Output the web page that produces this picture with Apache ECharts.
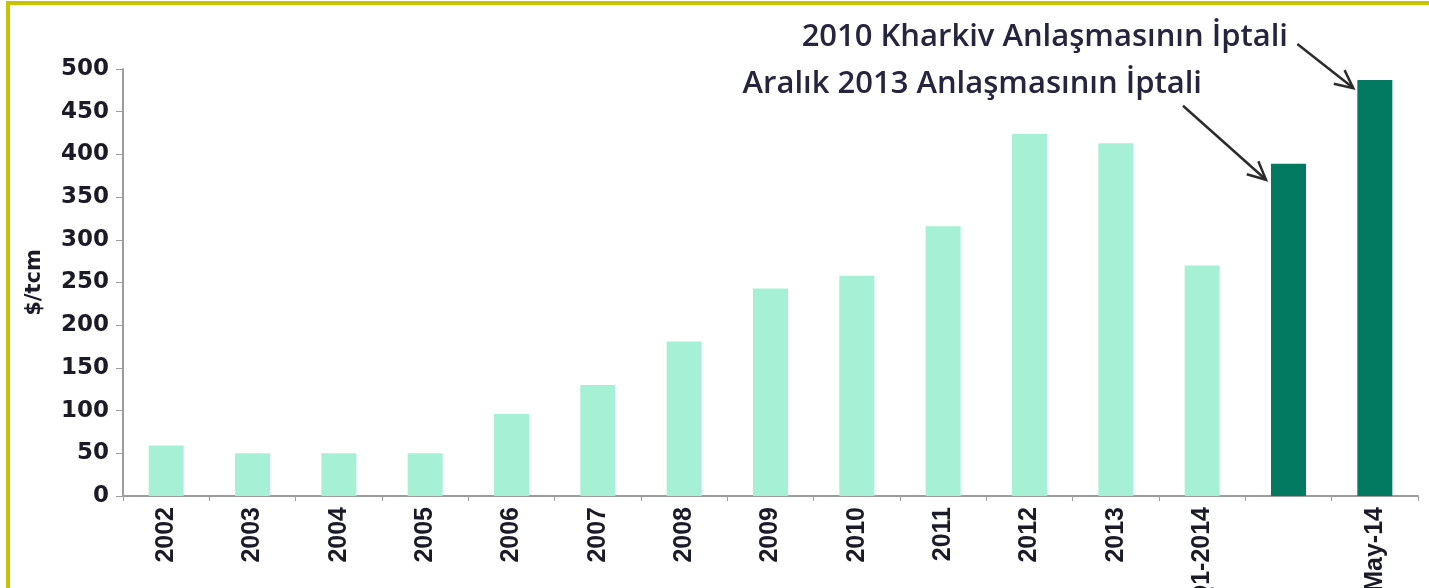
<!DOCTYPE html>
<html>
<head>
<meta charset="utf-8">
<script src="https://cdn.jsdelivr.net/npm/echarts@6/dist/echarts.min.js"></script>
<style>
  html, body { margin: 0; padding: 0; background: #fff; }
  #chart { width: 1429px; height: 588px; }
</style>
</head>
<body>
<div id="chart"></div>
<script>
// gas price to Ukraine, $/tcm
const categories = ['2002', '2003', '2004', '2005', '2006', '2007', '2008', '2009', '2010', '2011', '2012', '2013', 'Q1-2014', '', 'May-14'];
const prices = [59, 50, 50, 50, 96, 130, 181, 243, 258, 316, 424, 413, 270, 389, 487];
const cancelledBars = [13, 14]; // bars drawn in dark green
const yTicks = { min: 0, max: 500, step: 50 };
const noteTexts = ['2010 Kharkiv Anlaşmasının İptali', 'Aralık 2013 Anlaşmasının İptali'];
const noteBars = [14, 13];

const light = '#a6f1d5';
const dark = '#027a62';
const textColor = '#1b1b28';
const axisGrey = '#9c9c9c';

const chart = echarts.init(document.getElementById('chart'));

const barData = prices.map((v, i) => ({
  value: v,
  itemStyle: { color: cancelledBars.indexOf(i) >= 0 ? dark : light }
}));

const option = {
  animation: false,
  grid: { left: 123, right: 11, top: 69, bottom: 92, outerBoundsMode: 'none', containLabel: false },
  xAxis: {
    type: 'category',
    data: categories,
    axisLine: { lineStyle: { color: axisGrey, width: 2 } },
    axisTick: { show: true, length: 5, lineStyle: { color: axisGrey } },
    axisLabel: {
      rotate: 90,
      margin: 11,
      color: textColor,
      fontFamily: 'Liberation Sans',
      fontWeight: 'bold',
      fontSize: 25
    }
  },
  yAxis: {
    type: 'value',
    min: yTicks.min,
    max: yTicks.max,
    interval: yTicks.step,
    name: '$/tcm',
    nameLocation: 'middle',
    nameGap: 78,
    nameTextStyle: {
      color: textColor,
      fontFamily: 'DejaVu Sans',
      fontWeight: 'bold',
      fontSize: 21
    },
    axisLine: { show: true, lineStyle: { color: axisGrey, width: 2 } },
    axisTick: { show: true, length: 7, lineStyle: { color: axisGrey } },
    splitLine: { show: false },
    axisLabel: {
      margin: 14,
      color: textColor,
      fontFamily: 'DejaVu Sans',
      fontWeight: 'bold',
      fontSize: 23
    }
  },
  series: [{
    type: 'bar',
    data: barData,
    barWidth: 35
  }]
};
chart.setOption(option);

// annotations: text + arrow pointing to the top-left corner of a bar
function arrow(from, tip) {
  const ang = Math.atan2(tip[1] - from[1], tip[0] - from[0]);
  const len = 20, spread = 0.45;
  const b1 = [tip[0] - len * Math.cos(ang - spread), tip[1] - len * Math.sin(ang - spread)];
  const b2 = [tip[0] - len * Math.cos(ang + spread), tip[1] - len * Math.sin(ang + spread)];
  const st = { stroke: '#2b2b2b', lineWidth: 2.5, fill: null };
  return [
    { type: 'polyline', shape: { points: [from, tip] }, style: st },
    { type: 'polyline', shape: { points: [b1, tip, b2] }, style: st }
  ];
}

const halfBar = 35 / 2;
const tip1 = chart.convertToPixel({ seriesIndex: 0 }, [noteBars[0], prices[noteBars[0]]]);
const tip2 = chart.convertToPixel({ seriesIndex: 0 }, [noteBars[1], prices[noteBars[1]]]);
const t1 = [tip1[0] - halfBar - 4, tip1[1] + 8];
const t2 = [tip2[0] - halfBar - 5, tip2[1] + 16];

const noteFont = '600 31px "Open Sans"';
const graphics = [
  { type: 'rect', shape: { x: 6, y: 1, width: 1429, height: 4 }, style: { fill: '#c9c200' } },
  { type: 'rect', shape: { x: 6, y: 1, width: 4, height: 588 }, style: { fill: '#c9c200' } },
  {
    type: 'text', x: 1288, y: 37,
    style: { text: noteTexts[0], font: noteFont, fill: '#25253f', align: 'right', verticalAlign: 'middle' }
  },
  {
    type: 'text', x: 1202, y: 84,
    style: { text: noteTexts[1], font: noteFont, fill: '#25253f', align: 'right', verticalAlign: 'middle' }
  }
].concat(arrow([t1[0] - 56, t1[1] - 44], t1), arrow([t2[0] - 83, t2[1] - 74], t2));

chart.setOption({ graphic: graphics });
</script>
</body>
</html>
